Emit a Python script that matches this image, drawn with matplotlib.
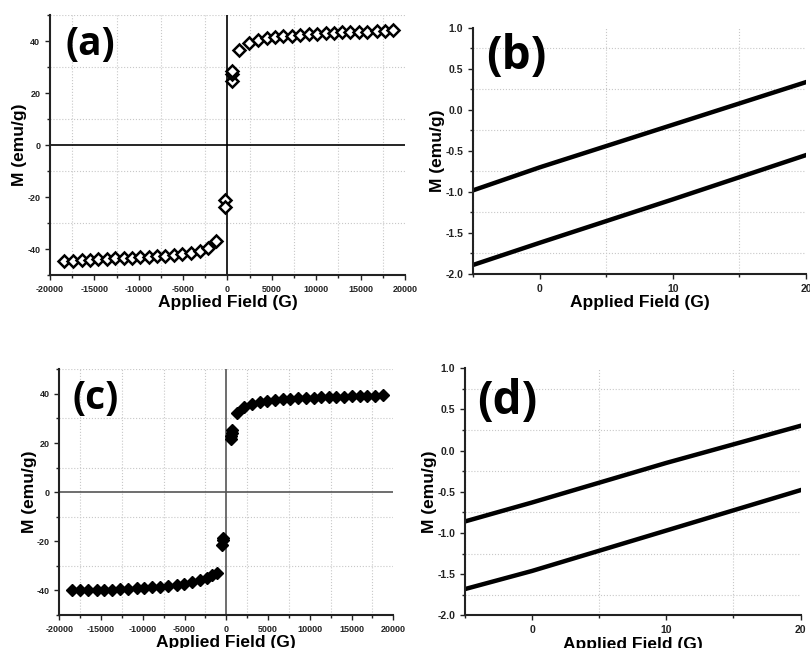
import matplotlib.pyplot as plt
from matplotlib.ticker import MultipleLocator, FormatStrFormatter

plt.rcParams['font.family'] = ['Liberation Sans', 'DejaVu Sans']
plt.rcParams['font.weight'] = 'bold'
plt.rcParams['axes.unicode_minus'] = False

# (a) hysteresis loop, open diamonds
a_up_x = [1320, 2450, 3400, 4420, 5400, 6300, 7280, 8190, 9170, 10080,
          11060, 11960, 12940, 13850, 14830, 15740, 16790, 17740, 18680]
a_up_y = [36.7, 39.2, 40.3, 41.2, 41.5, 41.9, 42.1, 42.4, 42.6, 42.8,
          43.0, 43.1, 43.3, 43.5, 43.5, 43.6, 43.8, 44.0, 44.4]
a_lo_x = [-18400, -17360, -16420, -15480, -14540, -13590, -12655, -11715, -10770, -9830,
          -8890, -7940, -7005, -6065, -5120, -4100, -3130, -2225, -1240]
a_lo_y = [-44.5, -44.5, -44.3, -44.1, -44.0, -43.9, -43.6, -43.5, -43.4, -43.2,
          -43.1, -42.8, -42.6, -42.3, -42.1, -41.5, -40.9, -39.6, -37.0]
a_mid_x = [530, 530, 560, -250, -250]
a_mid_y = [24.5, 27.3, 28.3, -21.3, -23.9]

# (c) hysteresis loop, filled diamonds
c_up_x = [1250, 2170, 3100, 4000, 4930, 5850, 6780, 7690, 8600, 9530,
          10450, 11380, 12290, 13200, 14130, 15050, 15980, 16890, 17800, 18730]
c_up_y = [32.4, 34.8, 36.0, 36.7, 37.2, 37.5, 37.8, 38.0, 38.2, 38.3,
          38.5, 38.6, 38.7, 38.8, 38.9, 39.0, 39.1, 39.2, 39.3, 39.5]
c_lo_x = [-18440, -17520, -16530, -15520, -14610, -13650, -12730, -11740, -10730, -9820,
          -8860, -7940, -6950, -5940, -5030, -4070, -3150, -2350, -1750, -1150]
c_lo_y = [-39.7, -40.0, -40.0, -39.9, -39.7, -39.7, -39.5, -39.3, -39.2, -39.1,
          -38.8, -38.5, -38.2, -37.8, -37.3, -36.7, -35.9, -35.0, -33.9, -32.8]
c_mid_x = [560, 600, 640, 720, -440, -400, -480]
c_mid_y = [21.8, 23.0, 24.0, 25.3, -18.8, -19.6, -21.4]

# (b), (d) low-field zoom, two branches each
low_x = [-5, 0, 10, 20]
b_upper = [-0.98, -0.70, -0.18, 0.34]
b_lower = [-1.89, -1.62, -1.09, -0.55]
d_upper = [-0.86, -0.63, -0.15, 0.30]
d_lower = [-1.68, -1.46, -0.97, -0.48]


def style_axes(ax, fontsize):
    ax.spines['top'].set_visible(False)
    ax.spines['right'].set_visible(False)
    for s in ['left', 'bottom']:
        ax.spines[s].set_linewidth(1.5)
        ax.spines[s].set_color('#222222')
    ax.tick_params(which='both', direction='out', width=1.0, colors='#222222', labelsize=fontsize)
    ax.tick_params(which='major', length=3.5)
    ax.tick_params(which='minor', length=2.5)
    ax.grid(which='minor', color='#c8c8c8', linestyle=':', linewidth=0.8)
    ax.set_axisbelow(True)
    ax.set_xlabel('Applied Field (G)', fontsize=12.5, fontweight='bold', labelpad=1)
    ax.set_ylabel('M (emu/g)', fontsize=12.5, fontweight='bold', labelpad=0)


def hyst_axes(ax, zero_color):
    ax.set_xlim(-20000, 20000)
    ax.set_ylim(-50, 50)
    ax.xaxis.set_major_locator(MultipleLocator(5000))
    ax.xaxis.set_minor_locator(MultipleLocator(2500))
    ax.yaxis.set_major_locator(MultipleLocator(20))
    ax.yaxis.set_minor_locator(MultipleLocator(10))
    ax.axhline(0, color=zero_color, linewidth=1.2, zorder=1)
    ax.axvline(0, color=zero_color, linewidth=1.2, zorder=1)
    style_axes(ax, 6.5)


def low_axes(ax):
    ax.set_xlim(-5, 20)
    ax.set_ylim(-2, 1)
    ax.xaxis.set_major_locator(MultipleLocator(10))
    ax.xaxis.set_minor_locator(MultipleLocator(5))
    ax.yaxis.set_major_locator(MultipleLocator(0.5))
    ax.yaxis.set_minor_locator(MultipleLocator(0.25))
    ax.yaxis.set_major_formatter(FormatStrFormatter('%.1f'))
    style_axes(ax, 7.5)


fig = plt.figure(figsize=(8.1, 6.48), dpi=100)
ax_a = fig.add_axes([0.0617, 0.5756, 0.4383, 0.4012])
ax_b = fig.add_axes([0.584, 0.5772, 0.4111, 0.3796])
ax_c = fig.add_axes([0.0732, 0.0509, 0.4123, 0.3792])
ax_d = fig.add_axes([0.574, 0.0502, 0.4144, 0.3818])

# (a)
hyst_axes(ax_a, 'black')
for xs, ys in [(a_up_x, a_up_y), (a_lo_x, a_lo_y), (a_mid_x, a_mid_y)]:
    ax_a.plot(xs, ys, linestyle='none', marker='D', markersize=6.5,
              markerfacecolor='white', markeredgecolor='black', markeredgewidth=1.8, zorder=3)

# (c)
hyst_axes(ax_c, '#555555')
for xs, ys in [(c_up_x, c_up_y), (c_lo_x, c_lo_y), (c_mid_x, c_mid_y)]:
    ax_c.plot(xs, ys, linestyle='none', marker='D', markersize=6.5,
              color='black', zorder=3)

# (b), (d)
low_axes(ax_b)
ax_b.plot(low_x, b_upper, color='black', linewidth=3.2)
ax_b.plot(low_x, b_lower, color='black', linewidth=3.2)
low_axes(ax_d)
ax_d.plot(low_x, d_upper, color='black', linewidth=3.2)
ax_d.plot(low_x, d_lower, color='black', linewidth=3.2)

# panel letters
for ax, label, px, py, fs in [(ax_a, '(a)', 0.113, 0.885, 28), (ax_b, '(b)', 0.131, 0.886, 33),
                              (ax_c, '(c)', 0.11, 0.883, 28), (ax_d, '(d)', 0.125, 0.864, 33)]:
    ax.text(px, py, label, transform=ax.transAxes, ha='center', va='center',
            fontsize=fs, fontweight='bold', family=['Open Sans', 'DejaVu Sans'])

fig.savefig('out.png', dpi=100)
